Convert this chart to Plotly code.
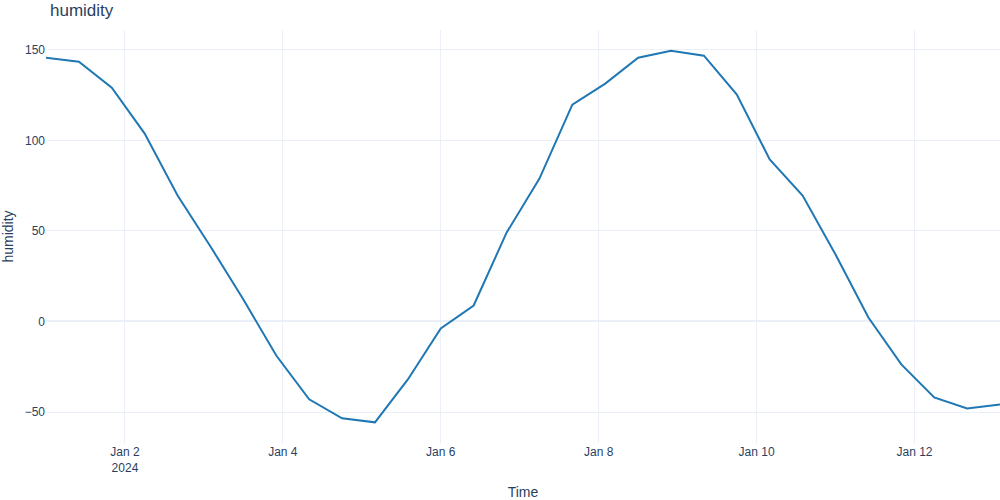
import pandas as pd
import plotly.graph_objects as go

times = pd.date_range('2024-01-01 00:00', periods=30, freq='10h')
humidity = [145.6, 143.4, 129.0, 103.7, 69.5, 41.4, 12.1, -18.8, -43.0, -53.5,
            -55.7, -32.0, -3.9, 8.8, 49.0, 78.9, 119.7, 131.3, 145.6, 149.5,
            146.7, 125.2, 89.4, 69.5, 37.0, 2.2, -23.7, -41.9, -48.0, -45.8]

fig = go.Figure()
fig.add_trace(go.Scatter(x=times, y=humidity, mode='lines',
                         line=dict(color='#1f77b4', width=2), name='humidity'))

fig.update_layout(
    template='plotly_white',
    font=dict(family='Arial'),
    title=dict(text='humidity', x=0.05, xanchor='left', y=0.992, yanchor='top',
               font=dict(size=17)),
    margin=dict(l=46, r=0, t=30, b=57),
    xaxis_title='Time',
    yaxis_title='humidity',
    showlegend=False,
)
fig.update_yaxes(tickvals=[-50, 0, 50, 100, 150], zeroline=True)

# page has no body margin, so the figure fills the whole window
fig.write_html(
    "out.html",
    config={'displayModeBar': False},
    post_script="document.body.style.margin='0';"
                "Plotly.Plots.resize(document.getElementById('{plot_id}'));",
)
